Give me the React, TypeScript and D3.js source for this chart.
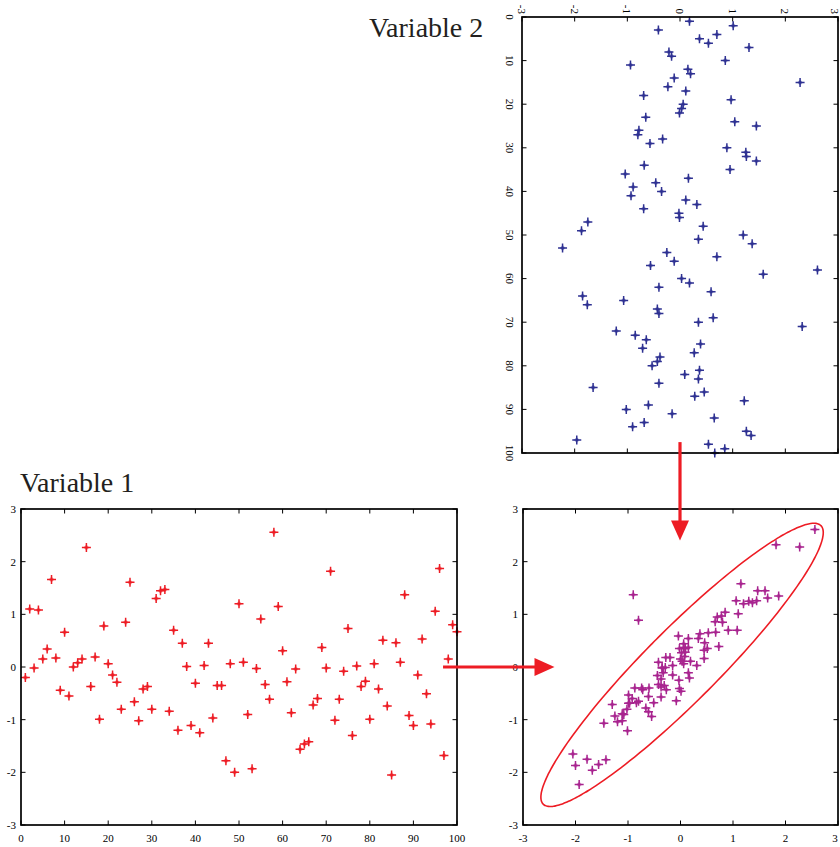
import React from "react";
import * as d3 from "d3";

// Variable 1 values, samples 1..100
const variable1 = [
  -0.20, 1.10, -0.02, 1.08, 0.15, 0.34, 1.66, 0.17, -0.44, 0.66,
  -0.55, 0.00, 0.08, 0.15, 2.27, -0.37, 0.19, -0.99, 0.78, 0.06,
  -0.15, -0.29, -0.80, 0.85, 1.61, -0.66, -1.02, -0.42, -0.37, -0.80,
  1.30, 1.45, 1.47, -0.84, 0.70, -1.20, 0.45, 0.01, -1.11, -0.31,
  -1.25, 0.03, 0.45, -0.97, -0.35, -0.35, -1.78, 0.06, -2.00, 1.20,
  0.09, -0.90, -1.93, -0.03, 0.91, -0.33, -0.61, 2.56, 1.15, 0.31,
  -0.28, -0.87, -0.04, -1.56, -1.46, -1.42, -0.72, -0.60, 0.37, -0.02,
  1.82, -1.01, -0.61, -0.08, 0.73, -1.30, 0.02, -0.37, -0.27, -0.99,
  0.06, -0.42, 0.51, -0.74, -2.05, 0.46, 0.09, 1.37, -0.92, -1.11,
  -0.15, 0.53, -0.51, -1.08, 1.06, 1.87, -1.68, 0.15, 0.80, 0.67,
];

// Variable 2 values, samples 1..100
const variable2 = [
  0.18, 1.01, -0.41, 0.70, 0.37, 0.54, 1.31, -0.21, -0.16, 0.86,
  -0.94, 0.15, 0.20, -0.11, 2.28, -0.23, 0.11, -0.69, 0.97, 0.06,
  0.03, -0.01, -0.65, 1.04, 1.45, -0.78, -0.80, -0.33, -0.57, 0.89,
  1.25, 1.26, 1.45, -0.68, 0.95, -1.04, 0.16, -0.46, -0.89, -0.35,
  -0.93, 0.11, 0.32, -0.69, -0.02, -0.01, -1.75, 0.44, -1.87, 1.20,
  0.35, 1.37, -2.23, -0.25, 0.70, -0.11, -0.56, 2.61, 1.58, 0.03,
  0.18, -0.40, 0.59, -1.85, -1.07, -1.76, -0.43, -0.40, 0.63, 0.35,
  2.32, -1.21, -0.85, -0.64, 0.39, -0.71, 0.27, -0.38, -0.43, -0.53,
  0.37, 0.09, 0.35, -0.40, -1.65, 0.46, 0.28, 1.22, -0.60, -1.02,
  -0.15, 0.65, -0.68, -0.90, 1.26, 1.35, -1.96, 0.54, 0.85, 0.66,
];

const valueTicks = [-3, -2, -1, 0, 1, 2, 3];
const indexTicks = [0, 10, 20, 30, 40, 50, 60, 70, 80, 90, 100];
const titles = ["Variable 1", "Variable 2"];

// confidence ellipse: centre, semi-axes, orientation (degrees)
const ellipseCenter = [0.03, 0.04];
const ellipseAxes = [3.74, 0.69];
const ellipseAngle = 45;

const RED = "#ed1c24";
const BLUE = "#2e3192";
const MAGENTA = "#a8248f";
const FONT = "'Liberation Serif', 'Times New Roman', serif";

// scales
const blX = d3.scaleLinear().domain([0, 100]).range([21, 457]);
const blY = d3.scaleLinear().domain([-3, 3]).range([825, 509]);
const trX = d3.scaleLinear().domain([-3, 3]).range([522, 838]);
const trY = d3.scaleLinear().domain([0, 100]).range([17, 453]);
const brX = d3.scaleLinear().domain([-3, 3]).range([523, 838]);
const brY = d3.scaleLinear().domain([-3, 3]).range([825, 509]);

function Star({ x, y, color }: { x: number; y: number; color: string }) {
  return (
    <g transform={`translate(${x},${y})`}>
      <path d="M0,-3L3,0L0,3L-3,0Z" fill={color} opacity={0.45} />
      <path d="M-4.5,0H4.5M0,-4.5V4.5" stroke={color} strokeWidth={1.5} />
      <circle r={1.3} fill={color} />
    </g>
  );
}

function Frame({ x0, x1, y0, y1 }: { x0: number; x1: number; y0: number; y1: number }) {
  return (
    <rect x={x0} y={y0} width={x1 - x0} height={y1 - y0} fill="none" stroke="#000" strokeWidth={1.7} />
  );
}

const TICK = 4.5;

export default function App() {
  const [bx0, bx1] = blX.range();
  const [by1, by0] = blY.range();
  const [tx0, tx1] = trX.range();
  const [ty0, ty1] = trY.range();
  const [rx0, rx1] = brX.range();
  const [ry1, ry0] = brY.range();

  const ellipsePts = d3.range(0, 360, 2).map((deg) => {
    const t = (deg * Math.PI) / 180;
    const th = (ellipseAngle * Math.PI) / 180;
    const u = ellipseAxes[0] * Math.cos(t);
    const v = ellipseAxes[1] * Math.sin(t);
    return [
      ellipseCenter[0] + u * Math.cos(th) - v * Math.sin(th),
      ellipseCenter[1] + u * Math.sin(th) + v * Math.cos(th),
    ] as [number, number];
  });
  const ellipsePath = d3
    .line<[number, number]>()
    .x((d) => brX(d[0]))
    .y((d) => brY(d[1]))
    .curve(d3.curveCardinalClosed)(ellipsePts) as string;

  // arrows
  const vX = trX(0);
  const vStart = trY(97.5);
  const vEnd = brY(2.4);
  const hY = blY(0);
  const hStart = blX(96.8);
  const hEnd = brX(-2.4);
  const head = 20;
  const hw = 9;

  return (
    <svg
      width={840}
      height={847}
      style={{ position: "absolute", left: 0, top: 0, display: "block", background: "#fff" }}
      fontFamily={FONT}
    >
      <rect x={0} y={0} width={840} height={847} fill="#fff" />

      {/* titles */}
      <text x={20} y={492} fontSize={28} fill="#231f20">{titles[0]}</text>
      <text x={369} y={37} fontSize={28} fill="#231f20">{titles[1]}</text>

      {/* ---------- Bottom-left: Variable 1 ---------- */}
      <g>
        {indexTicks.map((t) => (
          <g key={"blx" + t}>
            <line x1={blX(t)} x2={blX(t)} y1={by1} y2={by1 - TICK} stroke="#000" />
            <line x1={blX(t)} x2={blX(t)} y1={by0} y2={by0 + TICK} stroke="#000" />
            <text x={blX(t)} y={842} fontSize={11} textAnchor="middle" fill="#000">{t}</text>
          </g>
        ))}
        {valueTicks.map((t) => (
          <g key={"bly" + t}>
            <line x1={bx0} x2={bx0 + TICK} y1={blY(t)} y2={blY(t)} stroke="#000" />
            <line x1={bx1} x2={bx1 - TICK} y1={blY(t)} y2={blY(t)} stroke="#000" />
            <text x={16} y={blY(t)} fontSize={11} textAnchor="end" dominantBaseline="central" fill="#000">{t}</text>
          </g>
        ))}
        {variable1.map((v, i) => (
          <Star key={"v1" + i} x={blX(i + 1)} y={blY(v)} color={RED} />
        ))}
        <Frame x0={bx0} x1={bx1} y0={by0} y1={by1} />
      </g>

      {/* ---------- Top-right: Variable 2 (rotated) ---------- */}
      <g>
        {valueTicks.map((t) => (
          <g key={"trx" + t}>
            <line x1={trX(t)} x2={trX(t)} y1={ty0} y2={ty0 + TICK} stroke="#000" />
            <line x1={trX(t)} x2={trX(t)} y1={ty1} y2={ty1 - TICK} stroke="#000" />
            <text
              transform={`translate(${Math.min(trX(t), 835)},${ty0 - 3}) rotate(90)`}
              fontSize={11}
              textAnchor="end"
              dominantBaseline="central"
              fill="#000"
            >
              {t}
            </text>
          </g>
        ))}
        {indexTicks.map((t) => (
          <g key={"try" + t}>
            <line x1={tx0} x2={tx0 + TICK} y1={trY(t)} y2={trY(t)} stroke="#000" />
            <line x1={tx1} x2={tx1 - TICK} y1={trY(t)} y2={trY(t)} stroke="#000" />
            <text
              transform={`translate(${510},${trY(t)}) rotate(90)`}
              fontSize={11}
              textAnchor="middle"
              dominantBaseline="central"
              fill="#000"
            >
              {t}
            </text>
          </g>
        ))}
        {variable2.map((v, i) => (
          <Star key={"v2" + i} x={trX(v)} y={trY(i + 1)} color={BLUE} />
        ))}
        <Frame x0={tx0} x1={tx1} y0={ty0} y1={ty1} />
      </g>

      {/* ---------- Bottom-right: joint scatter ---------- */}
      <g>
        {valueTicks.map((t) => (
          <g key={"brx" + t}>
            <line x1={brX(t)} x2={brX(t)} y1={ry1} y2={ry1 - TICK} stroke="#000" />
            <line x1={brX(t)} x2={brX(t)} y1={ry0} y2={ry0 + TICK} stroke="#000" />
            <text x={Math.min(brX(t), 835)} y={842} fontSize={11} textAnchor="middle" fill="#000">{t}</text>
          </g>
        ))}
        {valueTicks.map((t) => (
          <g key={"bry" + t}>
            <line x1={rx0} x2={rx0 + TICK} y1={brY(t)} y2={brY(t)} stroke="#000" />
            <line x1={rx1} x2={rx1 - TICK} y1={brY(t)} y2={brY(t)} stroke="#000" />
            <text x={518} y={brY(t)} fontSize={11} textAnchor="end" dominantBaseline="central" fill="#000">{t}</text>
          </g>
        ))}
        {variable1.map((v, i) => (
          <Star key={"j" + i} x={brX(v)} y={brY(variable2[i])} color={MAGENTA} />
        ))}
        <path d={ellipsePath} fill="none" stroke={RED} strokeWidth={1.6} />
        <Frame x0={rx0} x1={rx1} y0={ry0} y1={ry1} />
      </g>

      {/* ---------- Arrows ---------- */}
      <g fill={RED} stroke="none">
        <line x1={vX} x2={vX} y1={vStart} y2={vEnd - head + 1} stroke={RED} strokeWidth={3.2} />
        <polygon points={`${vX - hw},${vEnd - head} ${vX + hw},${vEnd - head} ${vX},${vEnd}`} />
        <line x1={hStart} x2={hEnd - head + 1} y1={hY} y2={hY} stroke={RED} strokeWidth={3.2} />
        <polygon points={`${hEnd - head},${hY - hw} ${hEnd - head},${hY + hw} ${hEnd},${hY}`} />
      </g>
    </svg>
  );
}
